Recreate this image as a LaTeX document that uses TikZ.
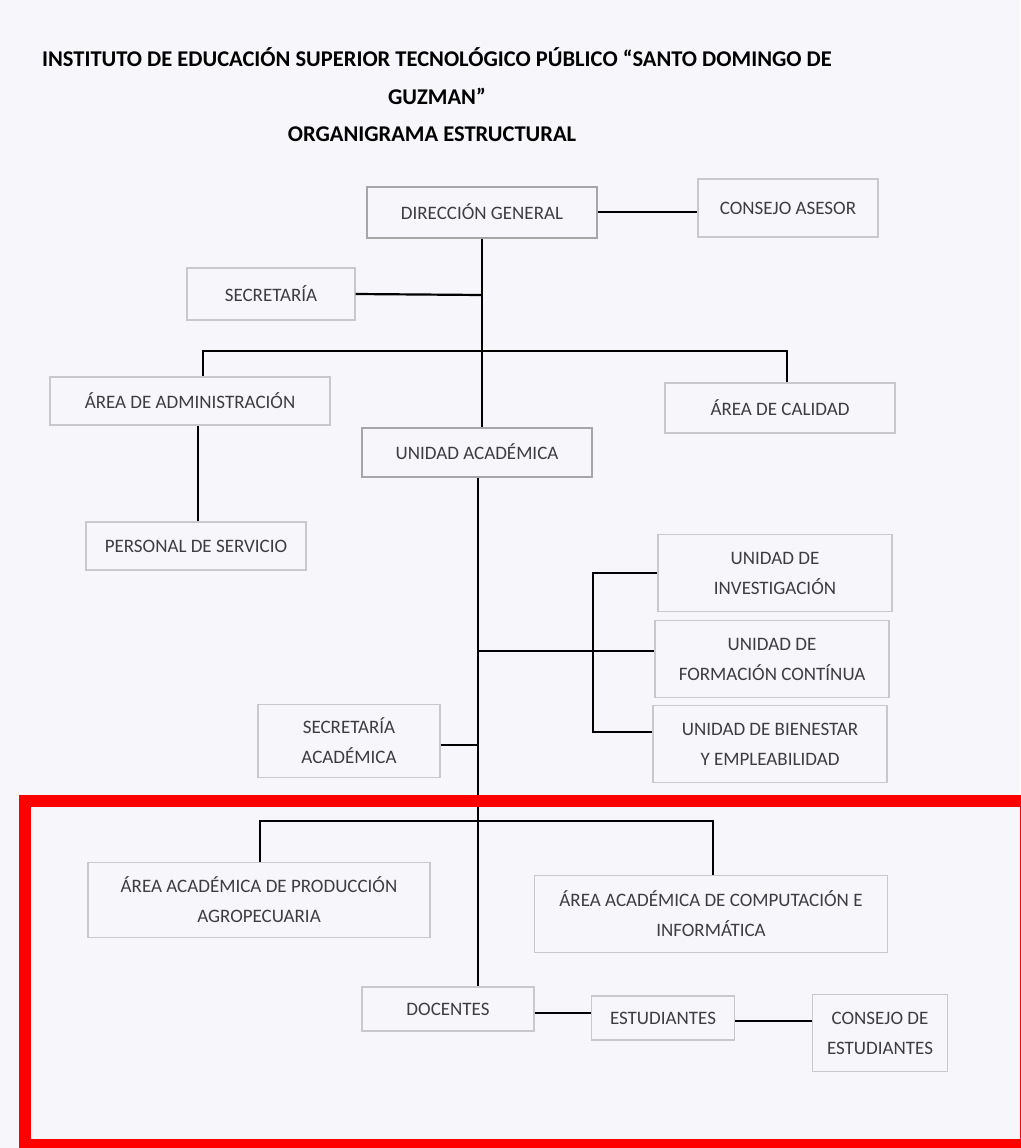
\documentclass[tikz,border=0pt]{standalone}
\usepackage{fontspec}
\setmainfont{Carlito}
\definecolor{paper}{RGB}{247,247,251}
\definecolor{inkgray}{RGB}{60,60,65}
\definecolor{boxline}{RGB}{200,200,205}
\tikzset{
  unitbox/.style={draw=boxline, line width=1.2pt, fill=paper, text=inkgray, font=\fontsize{19}{30}\selectfont, align=center, inner sep=0pt},
  mainbox/.style={unitbox, draw=gray!70, line width=2pt},
  link/.style={draw=black, line width=2.2pt}
}
\begin{document}
\begin{tikzpicture}[x=1pt,y=-1pt]
            \useasboundingbox (0,0) rectangle (1020,1148);
            \fill[paper] (0,0) rectangle (1020,1148);
            % titulos
            \node[font=\bfseries\fontsize{22.5}{38}\selectfont, align=center] (titulo) at (437,76) {INSTITUTO DE EDUCACIÓN SUPERIOR TECNOLÓGICO PÚBLICO “SANTO DOMINGO DE\\GUZMAN”};
            \node[font=\bfseries\fontsize{22.5}{24}\selectfont] (subtitulo) at (432,134) {ORGANIGRAMA ESTRUCTURAL};
            % cajas
            \node[mainbox, minimum width=230, minimum height=51] (direccion) at (482,212) {DIRECCIÓN GENERAL};
            \node[unitbox, minimum width=180, minimum height=58] (consejo) at (788,208) {CONSEJO ASESOR};
            \node[unitbox, minimum width=168, minimum height=52] (secretaria) at (271,294) {SECRETARÍA};
            \node[unitbox, minimum width=280, minimum height=48] (administracion) at (190,401) {ÁREA DE ADMINISTRACIÓN};
            \node[unitbox, minimum width=230, minimum height=50] (calidad) at (780,408) {ÁREA DE CALIDAD};
            \node[mainbox, minimum width=230, minimum height=49] (academica) at (477,452) {UNIDAD ACADÉMICA};
            \node[unitbox, minimum width=220, minimum height=48] (personal) at (196,546) {PERSONAL DE SERVICIO};
            \node[unitbox, minimum width=234, minimum height=77] (investigacion) at (775,573) {UNIDAD DE\\INVESTIGACIÓN};
            \node[unitbox, minimum width=234, minimum height=77] (formacion) at (772,659) {UNIDAD DE\\FORMACIÓN CONTÍNUA};
            \node[unitbox, minimum width=234, minimum height=77] (bienestar) at (770,744) {UNIDAD DE BIENESTAR\\Y EMPLEABILIDAD};
            \node[unitbox, minimum width=182, minimum height=73] (secacad) at (349,741) {SECRETARÍA\\ACADÉMICA};
            \node[unitbox, minimum width=342, minimum height=75] (agropecuaria) at (259,900) {ÁREA ACADÉMICA DE PRODUCCIÓN\\AGROPECUARIA};
            \node[unitbox, minimum width=353, minimum height=77] (computacion) at (711,914) {ÁREA ACADÉMICA DE COMPUTACIÓN E\\INFORMÁTICA};
            \node[unitbox, minimum width=172, minimum height=44] (docentes) at (448,1009) {DOCENTES};
            \node[unitbox, minimum width=143, minimum height=44] (estudiantes) at (663,1018) {ESTUDIANTES};
            \node[unitbox, minimum width=135, minimum height=77] (consejoest) at (880,1033) {CONSEJO DE\\ESTUDIANTES};
            % puntos del tronco
            \coordinate (t1) at (482,295);
            \coordinate (t2) at (482,351);
            \coordinate (t3) at (478,651);
            \coordinate (t4) at (478,745);
            \coordinate (t5) at (478,821);
            \coordinate (b1) at (593,573);
            \coordinate (b2) at (593,732);
            % conectores
            \draw[link] (direccion.east) -- (consejo.west |- direccion.east);
            \draw[link] (direccion.south) -- (academica.north -| direccion.south);
            \draw[link] (secretaria.east) -- (t1);
            \draw[link] (administracion.north -| 203,0) -- (203,351) -- (787,351) -- (calidad.north -| 787,0);
            \draw[link, line width=1.4pt] (administracion.south -| 198,0) -- (personal.north -| 198,0);
            \draw[link] (academica.south -| t3) -- (docentes.north -| t3);
            \draw[link] (t3) -- (formacion.west |- t3);
            \draw[link] (investigacion.west |- b1) -- (b1) -- (b2) -- (bienestar.west |- b2);
            \draw[link] (secacad.east |- t4) -- (t4);
            \draw[link] (agropecuaria.north -| 260,0) -- (260,821) -- (713,821) -- (computacion.north -| 713,0);
            \draw[link] (docentes.east |- 0,1013) -- (estudiantes.west |- 0,1013);
            \draw[link] (estudiantes.east |- 0,1021) -- (consejoest.west |- 0,1021);
            % marco rojo
            \draw[red, line width=12pt] (25,801) rectangle (1026,1145);
        \end{tikzpicture}
\end{document}
